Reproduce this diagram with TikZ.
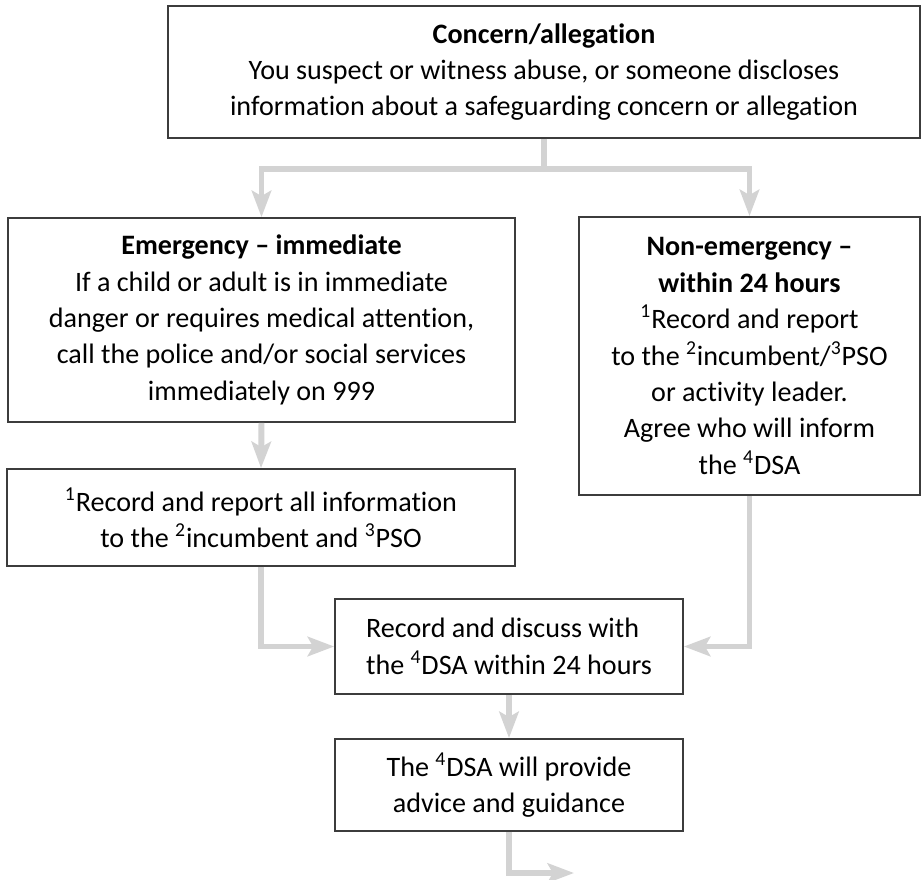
\documentclass[tikz,border=0pt]{standalone}
\usepackage{fontspec}
\setmainfont{Carlito}[Ligatures=NoCommon]
\usetikzlibrary{arrows.meta}
\definecolor{flowgray}{RGB}{211,211,211}
\definecolor{boxline}{RGB}{60,60,60}
\tikzset{
        box/.style={draw=boxline, line width=1pt, rectangle, align=center, inner sep=0pt,
            font=\fontsize{16}{20.7}\selectfont},
        flow/.style={draw=flowgray, line width=3.4pt,
            -{Stealth[length=15pt, width=11pt, inset=3pt]}},
        stem/.style={draw=flowgray, line width=3.4pt}
    }

\begin{document}
\begin{tikzpicture}[x=0.02cm, y=-0.02cm]
            \useasboundingbox (0,0) rectangle (922,879);
            \node [box, minimum width=15.04cm, minimum height=2.64cm] (concern) at (544, 72)
                {\textbf{Concern/allegation}\\
                 You suspect or witness abuse, or someone discloses\\
                 information about a safeguarding concern or allegation};
            \node [box, minimum width=10.14cm, minimum height=4.08cm] (emerg) at (261.5, 320)
                {\textbf{Emergency -- immediate}\\
                 If a child or adult is in immediate\\
                 danger or requires medical attention,\\
                 call the police and/or social services\\
                 immediately on 999};
            \node [box, minimum width=6.82cm, minimum height=5.56cm] (nonemerg) at (749.5, 356)
                {\textbf{Non-emergency --}\\
                 \textbf{within 24 hours}\\
                 \textsuperscript{1}Record and report\\
                 to the \textsuperscript{2}incumbent/\textsuperscript{3}PSO\\
                 or activity leader.\\
                 Agree who will inform\\
                 the \textsuperscript{4}DSA};
            \node [box, minimum width=10.16cm, minimum height=1.94cm] (report) at (261, 517.5)
                {\textsuperscript{1}Record and report all information\\
                 to the \textsuperscript{2}incumbent and \textsuperscript{3}PSO};
            \node [box, align=left, minimum width=6.96cm, minimum height=1.9cm] (discuss) at (509, 646.5)
                {Record and discuss with\\
                 the \textsuperscript{4}DSA within 24 hours};
            \node [box, minimum width=6.96cm, minimum height=1.84cm] (advice) at (509, 785)
                {The \textsuperscript{4}DSA will provide\\
                 advice and guidance};
            \coordinate (split) at (544, 169);
            \coordinate (onward) at (574, 873);

            \draw [stem] (concern.south) -- (split);
            \draw [flow] (split) -| (emerg);
            \draw [flow] (split) -| (nonemerg);
            \draw [flow] (emerg.south) -- (report.north);
            \draw [flow] (report) |- (discuss);
            \draw [flow] (nonemerg) |- (discuss);
            \draw [flow] (discuss) -- (advice);
            \draw [flow] (advice.south) |- (onward);
        \end{tikzpicture}
\end{document}
